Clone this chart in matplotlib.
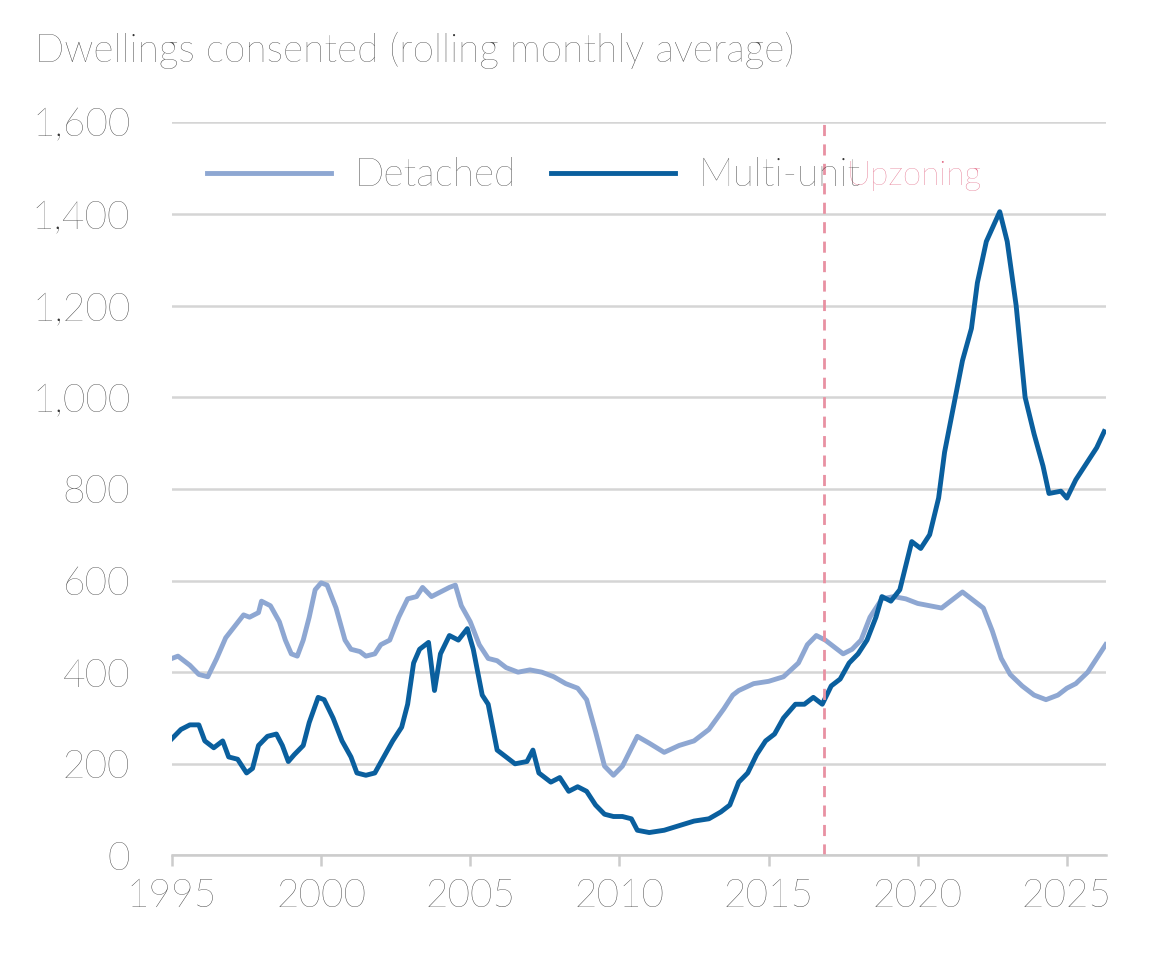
import matplotlib
matplotlib.use("Agg")
import matplotlib.pyplot as plt

det_x = [1995.0,1995.2,1995.6,1995.9,1996.2,1996.5,1996.8,1997.1,1997.4,1997.6,1997.9,1998.0,1998.3,1998.6,1998.8,1999.0,1999.2,1999.4,1999.6,1999.8,2000.0,2000.2,2000.5,2000.8,2001.0,2001.3,2001.5,2001.8,2002.0,2002.3,2002.6,2002.9,2003.2,2003.4,2003.7,2004.0,2004.3,2004.5,2004.7,2005.0,2005.3,2005.6,2005.9,2006.2,2006.6,2007.0,2007.4,2007.8,2008.2,2008.6,2008.9,2009.2,2009.5,2009.8,2010.1,2010.6,2011.0,2011.5,2012.0,2012.5,2013.0,2013.5,2013.8,2014.0,2014.5,2015.0,2015.5,2016.0,2016.3,2016.6,2016.9,2017.2,2017.5,2017.8,2018.1,2018.4,2018.8,2019.2,2019.6,2020.0,2020.4,2020.8,2021.2,2021.5,2021.8,2022.2,2022.5,2022.8,2023.1,2023.5,2023.9,2024.3,2024.7,2025.0,2025.3,2025.7,2026.0,2026.3]
det_y = [430,435,415,395,390,430,475,500,525,520,530,555,545,510,470,440,435,470,520,580,595,590,540,470,450,445,435,440,460,470,520,560,565,585,565,575,585,590,545,510,460,430,425,410,400,405,400,390,375,365,340,270,195,175,195,260,245,225,240,250,275,320,350,360,375,380,390,420,460,480,470,455,440,450,470,520,560,565,560,550,545,540,560,575,560,540,490,430,395,370,350,340,350,365,375,400,430,460]

mu_x = [1995.0,1995.3,1995.6,1995.9,1996.1,1996.4,1996.7,1996.9,1997.2,1997.5,1997.7,1997.9,1998.2,1998.5,1998.7,1998.9,1999.1,1999.4,1999.6,1999.9,2000.1,2000.4,2000.7,2001.0,2001.2,2001.5,2001.8,2002.1,2002.4,2002.7,2002.9,2003.1,2003.3,2003.6,2003.8,2004.0,2004.3,2004.6,2004.9,2005.1,2005.4,2005.6,2005.9,2006.2,2006.5,2006.9,2007.1,2007.3,2007.7,2008.0,2008.3,2008.6,2008.9,2009.2,2009.5,2009.8,2010.1,2010.4,2010.6,2011.0,2011.5,2012.0,2012.5,2013.0,2013.4,2013.7,2014.0,2014.3,2014.6,2014.9,2015.2,2015.5,2015.9,2016.2,2016.5,2016.8,2017.1,2017.4,2017.7,2018.0,2018.3,2018.6,2018.8,2019.1,2019.4,2019.8,2020.1,2020.4,2020.7,2020.9,2021.2,2021.5,2021.8,2022.0,2022.3,2022.75,2023.0,2023.3,2023.6,2023.9,2024.2,2024.4,2024.8,2025.0,2025.3,2025.7,2026.0,2026.25]
mu_y = [255,275,285,285,250,235,250,215,210,180,190,240,260,265,240,205,220,240,290,345,340,300,250,215,180,175,180,215,250,280,330,420,450,465,360,440,480,470,495,450,350,330,230,215,200,205,230,180,160,170,140,150,140,110,90,85,85,80,55,50,55,65,75,80,95,110,160,180,220,250,265,300,330,330,345,330,370,385,420,440,470,520,565,555,580,685,670,700,780,880,980,1080,1150,1250,1340,1405,1340,1200,1000,920,850,790,795,780,820,860,890,925]

x_ticks = [1995, 2000, 2005, 2010, 2015, 2020, 2025]
y_ticks = [0, 200, 400, 600, 800, 1000, 1200, 1400, 1600]
upzoning_year = 2016.85

plt.rcParams['font.family'] = ['Lato', 'DejaVu Sans']
plt.rcParams['font.weight'] = 'light'
fig = plt.figure(figsize=(11.7, 9.71), dpi=100)
ax = fig.add_axes([0.147, 0.119, 0.798, 0.755])
txt = '#333333'
ax.plot(det_x, det_y, color='#8ea7d2', lw=3.5, label='Detached')
ax.plot(mu_x, mu_y, color='#0a5f9e', lw=3.5, label='Multi-unit')
ax.axvline(upzoning_year, color='#e891a2', lw=2, ls=(0, (4, 3)))
ax.text(upzoning_year + 0.75, 1482, 'Upzoning', color='#e0607e', fontsize=24, va='center')
ax.set_xlim(1995, 2026.3)
ax.set_ylim(0, 1600)
ax.set_xticks(x_ticks)
ax.set_yticks(y_ticks)
ax.set_yticklabels([f'{v:,}' for v in y_ticks])
ax.grid(axis='y', color='#d5d5d5', lw=1.8)
ax.set_axisbelow(True)
for s in ['top', 'right', 'left']:
    ax.spines[s].set_visible(False)
ax.spines['bottom'].set_color('#cccccc')
ax.spines['bottom'].set_linewidth(1.8)
ax.tick_params(axis='y', length=0, labelsize=28, labelcolor=txt, pad=30)
ax.tick_params(axis='x', length=8, width=1.8, color='#cccccc', labelsize=28, labelcolor=txt, pad=8)
leg = ax.legend(loc='upper left', bbox_to_anchor=(0.0, 1.0), ncol=2, frameon=False,
                fontsize=28, handlelength=3.2, handletextpad=0.6, columnspacing=0.9, labelcolor=txt)
fig.text(0.03, 0.948, 'Dwellings consented (rolling monthly average)', fontsize=28, color=txt, va='center')
fig.savefig('out.png', dpi=100)
